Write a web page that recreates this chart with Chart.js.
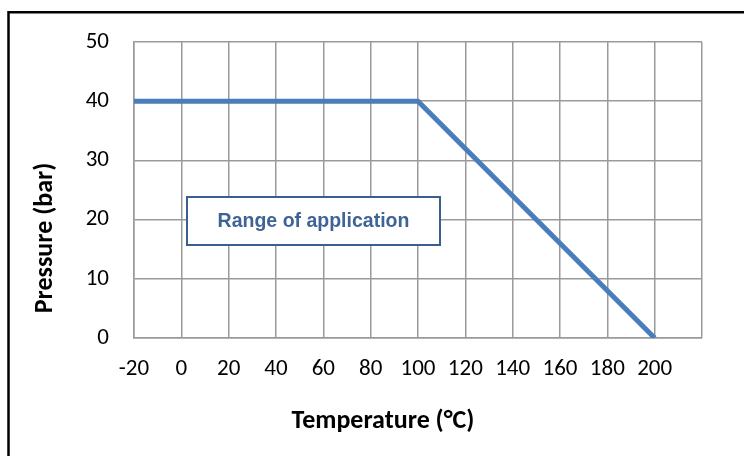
<!DOCTYPE html>
<html>
<head>
<meta charset="utf-8">
<script src="https://cdn.jsdelivr.net/npm/chart.js@4/dist/chart.umd.min.js"></script>
<style>
  html, body { margin: 0; padding: 0; background: #fff; }
  #wrap { width: 744px; height: 456px; }
</style>
</head>
<body>
<div id="wrap"><canvas id="chart"></canvas></div>
<script>
// chart data
const temperatures = [-20, 100, 200];
const pressures = [40, 40, 0];
const xTicks = [-20, 0, 20, 40, 60, 80, 100, 120, 140, 160, 180, 200];
const yTicks = [0, 10, 20, 30, 40, 50];
const xTitle = 'Temperature (°C)';
const yTitle = 'Pressure (bar)';
const noteText = 'Range of application';

const LABEL_FONT = 'Carlito, Calibri, Lato, "Open Sans", sans-serif';
const GRID = '#9a9a9a';

// frame, axis titles and the text box drawn on top of the chart
// (titles were moved by hand in the original, so they sit off-centre)
const extras = {
  id: 'extras',
  afterDraw(chart) {
    const ctx = chart.ctx;
    const area = chart.chartArea;
    ctx.save();

    // black frame (left and top edges visible)
    ctx.strokeStyle = '#000';
    ctx.lineWidth = 2.5;
    ctx.beginPath();
    ctx.moveTo(8.5, 456);
    ctx.lineTo(8.5, 12.3);
    ctx.lineTo(744, 12.3);
    ctx.stroke();

    // axis titles
    ctx.fillStyle = '#000';
    ctx.font = 'bold 26px ' + LABEL_FONT;
    ctx.textAlign = 'center';
    ctx.textBaseline = 'middle';
    ctx.fillText(xTitle, 383, 421);

    ctx.save();
    ctx.translate(45, 238);
    ctx.rotate(-Math.PI / 2);
    ctx.fillText(yTitle, 0, 0);
    ctx.restore();

    // "Range of application" box
    const bx = area.left + 53, by = area.top + 155, bw = 253, bh = 48;
    ctx.fillStyle = '#fff';
    ctx.fillRect(bx, by, bw, bh);
    ctx.strokeStyle = '#3a5f8f';
    ctx.lineWidth = 2;
    ctx.strokeRect(bx, by, bw, bh);
    ctx.fillStyle = '#3e6496';
    ctx.font = 'bold 19.5px "Liberation Sans", Arial, sans-serif';
    ctx.fillText(noteText, bx + bw / 2, by + bh / 2 + 1);

    ctx.restore();
  }
};

const ctx = document.getElementById('chart').getContext('2d');
new Chart(ctx, {
  type: 'line',
  data: {
    datasets: [{
      data: temperatures.map((t, i) => ({ x: t, y: pressures[i] })),
      borderColor: '#4a7ebb',
      borderWidth: 5,
      borderJoinStyle: 'miter',
      pointRadius: 0,
      tension: 0,
      fill: false
    }]
  },
  options: {
    responsive: true,
    maintainAspectRatio: false,
    animation: false,
    layout: { padding: { left: 0, top: 42, right: 42, bottom: 0 } },
    plugins: {
      legend: { display: false },
      tooltip: { enabled: false }
    },
    scales: {
      x: {
        type: 'linear',
        min: -20,
        max: 220,
        afterBuildTicks: scale => {
          scale.ticks = xTicks.concat([220]).map(v => ({ value: v }));
        },
        afterFit: scale => { scale.height = 118; },
        grid: { color: GRID, lineWidth: 1.5, drawTicks: false },
        border: { color: GRID, width: 1.5 },
        ticks: {
          padding: 17,
          maxRotation: 0,
          autoSkip: false,
          color: '#000',
          font: { family: LABEL_FONT, size: 23 },
          callback: v => (xTicks.includes(v) ? String(v) : '')
        }
      },
      y: {
        min: 0,
        max: 50,
        afterBuildTicks: scale => {
          scale.ticks = yTicks.map(v => ({ value: v }));
        },
        afterFit: scale => { scale.width = 134; },
        grid: { color: GRID, lineWidth: 1.5, drawTicks: false },
        border: { color: GRID, width: 1.5 },
        ticks: {
          padding: 25,
          color: '#000',
          font: { family: LABEL_FONT, size: 23 }
        }
      }
    }
  },
  plugins: [extras]
});
</script>
</body>
</html>
